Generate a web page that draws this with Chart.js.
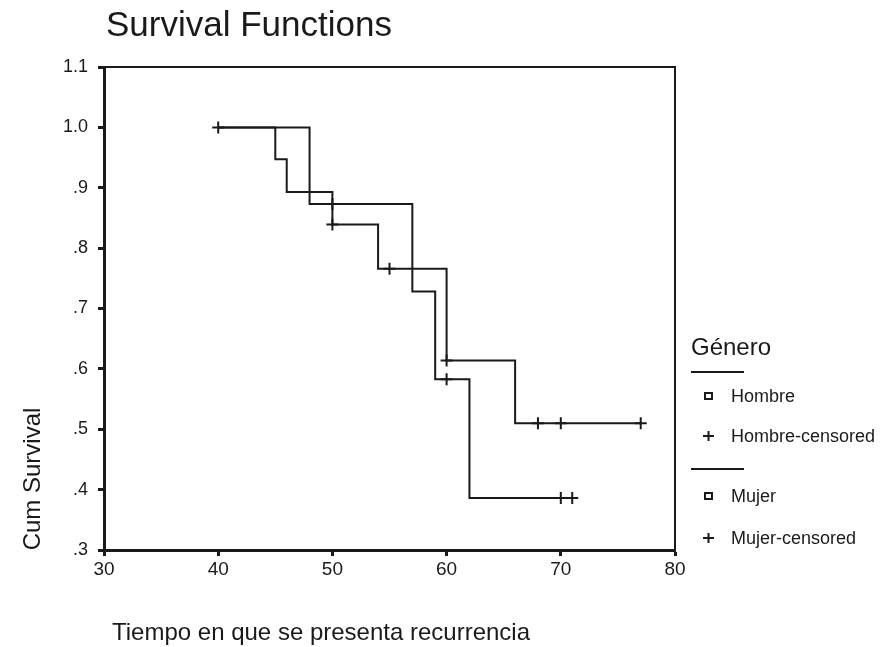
<!DOCTYPE html>
<html>
<head>
<meta charset="utf-8">
<script src="https://cdn.jsdelivr.net/npm/chart.js@4"></script>
<style>
  body { margin: 0; background: #fff; }
  canvas { display: block; }
</style>
</head>
<body>
<canvas id="survChart" width="889" height="647"></canvas>
<script>
// Kaplan-Meier curves (time, cumulative survival)
var hombreTime = [40, 45, 46, 50, 54, 60, 66, 77];
var hombreSurv = [1.0, 0.947, 0.893, 0.839, 0.766, 0.614, 0.510, 0.510];
var hombreCensTime = [40, 50, 55, 60, 68, 70, 77];
var hombreCensSurv = [1.0, 0.839, 0.766, 0.614, 0.510, 0.510, 0.510];

var mujerTime = [40, 48, 57, 59, 62, 71];
var mujerSurv = [1.0, 0.873, 0.728, 0.583, 0.386, 0.386];
var mujerCensTime = [50, 60, 70, 71];
var mujerCensSurv = [0.873, 0.583, 0.386, 0.386];

var xTicks = [30, 40, 50, 60, 70, 80];
var yTicks = [0.3, 0.4, 0.5, 0.6, 0.7, 0.8, 0.9, 1.0, 1.1];

var legendLabels = ['Hombre', 'Hombre-censored', 'Mujer', 'Mujer-censored'];

var FONT = '"Liberation Sans", Arial, sans-serif';
var INK = '#1a1a1a';

function pts(xs, ys) {
    return xs.map(function (x, i) { return { x: x, y: ys[i] }; });
}

// titulos, caja y leyenda
var decorPlugin = {
    id: 'decor',
    afterDraw: function (chart) {
        var ctx = chart.ctx;
        var a = chart.chartArea;
        ctx.save();
        ctx.strokeStyle = INK;
        ctx.lineWidth = 2;
        ctx.beginPath();
        ctx.moveTo(a.left, a.top);
        ctx.lineTo(a.right, a.top);
        ctx.lineTo(a.right, a.bottom);
        ctx.stroke();

        ctx.fillStyle = INK;
        ctx.textBaseline = 'alphabetic';
        ctx.textAlign = 'left';
        ctx.font = '35px ' + FONT;
        ctx.fillText('Survival Functions', 106, 36);

        ctx.font = '24px ' + FONT;
        ctx.textAlign = 'center';
        ctx.fillText('Tiempo en que se presenta recurrencia', 321, 640);

        ctx.save();
        ctx.translate(40, 479);
        ctx.rotate(-Math.PI / 2);
        ctx.fillText('Cum Survival', 0, 0);
        ctx.restore();

        // leyenda
        ctx.textAlign = 'left';
        ctx.font = '24px ' + FONT;
        ctx.fillText('Género', 691, 355);
        ctx.lineWidth = 2;
        [372, 469].forEach(function (y) {
            ctx.beginPath();
            ctx.moveTo(691, y);
            ctx.lineTo(744, y);
            ctx.stroke();
        });
        var rows = [396, 436, 496, 538];
        ctx.font = '18px ' + FONT;
        ctx.textBaseline = 'middle';
        rows.forEach(function (y, i) {
            ctx.lineWidth = 2;
            if (i % 2 === 0) {
                ctx.strokeRect(705, y - 3, 7, 6);
            } else {
                ctx.beginPath();
                ctx.moveTo(703, y);
                ctx.lineTo(714, y);
                ctx.moveTo(708.5, y - 5);
                ctx.lineTo(708.5, y + 5);
                ctx.stroke();
            }
            ctx.fillText(legendLabels[i], 731, y + 1);
        });
        ctx.restore();
    }
};

var ctx = document.getElementById('survChart').getContext('2d');
var survChart = new Chart(ctx, {
    type: 'scatter',
    data: {
        datasets: [{
            label: 'Hombre',
            data: pts(hombreTime, hombreSurv),
            showLine: true,
            stepped: true,
            pointRadius: 0,
            borderColor: INK,
            borderWidth: 2
        }, {
            label: 'Hombre-censored',
            data: pts(hombreCensTime, hombreCensSurv),
            showLine: false,
            pointStyle: 'cross',
            pointRadius: 6,
            borderColor: INK,
            borderWidth: 2
        }, {
            label: 'Mujer',
            data: pts(mujerTime, mujerSurv),
            showLine: true,
            stepped: true,
            pointRadius: 0,
            borderColor: INK,
            borderWidth: 2
        }, {
            label: 'Mujer-censored',
            data: pts(mujerCensTime, mujerCensSurv),
            showLine: false,
            pointStyle: 'cross',
            pointRadius: 6,
            borderColor: INK,
            borderWidth: 2
        }]
    },
    plugins: [decorPlugin],
    options: {
        responsive: false,
        animation: false,
        layout: { padding: { top: 67, right: 214, left: 0, bottom: 0 } },
        plugins: {
            legend: { display: false },
            tooltip: { enabled: false }
        },
        scales: {
            x: {
                type: 'linear',
                min: xTicks[0],
                max: xTicks[xTicks.length - 1],
                afterFit: function (s) { s.height = 97; },
                afterBuildTicks: function (s) {
                    s.ticks = xTicks.map(function (v) { return { value: v }; });
                },
                grid: {
                    drawOnChartArea: false,
                    drawTicks: true,
                    tickLength: 6,
                    tickWidth: 3,
                    tickColor: INK
                },
                border: { display: true, color: INK, width: 3 },
                ticks: {
                    padding: 2,
                    color: INK,
                    font: { family: FONT, size: 19 }
                }
            },
            y: {
                type: 'linear',
                min: yTicks[0],
                max: yTicks[yTicks.length - 1],
                afterFit: function (s) { s.width = 104; },
                afterBuildTicks: function (s) {
                    s.ticks = yTicks.map(function (v) { return { value: v }; });
                },
                grid: {
                    drawOnChartArea: false,
                    drawTicks: true,
                    tickLength: 6,
                    tickWidth: 3,
                    tickColor: INK
                },
                border: { display: true, color: INK, width: 3 },
                ticks: {
                    padding: 10,
                    color: INK,
                    font: { family: FONT, size: 18 },
                    callback: function (v) {
                        var s = (Math.round(v * 10) / 10).toFixed(1);
                        return s.charAt(0) === '0' ? s.slice(1) : s;
                    }
                }
            }
        }
    }
});
</script>
</body>
</html>
